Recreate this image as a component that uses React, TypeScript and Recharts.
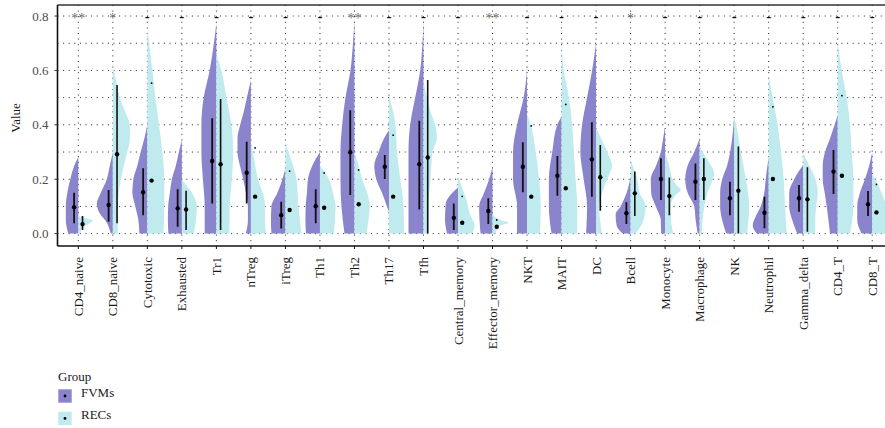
import React from 'react';
import { ComposedChart, Area, Line, Scatter, XAxis, YAxis, CartesianGrid, ReferenceLine } from 'recharts';

// ---------- data ----------
const categories = [
  'CD4_naive', 'CD8_naive', 'Cytotoxic', 'Exhausted', 'Tr1', 'nTreg', 'iTreg', 'Th1', 'Th2', 'Th17', 'Tfh',
  'Central_memory', 'Effector_memory', 'NKT', 'MAIT', 'DC', 'Bcell', 'Monocyte', 'Macrophage', 'NK',
  'Neutrophil', 'Gamma_delta', 'CD4_T', 'CD8_T',
];

const groups = ['FVMs', 'RECs'];

const significance = ['**', '*', '-', '-', '-', '-', '-', '-', '**', '-', '-', '-', '**', '-', '-', '-', '*', '-', '-', '-', '-', '-', '-', '-'];

// violin density profiles: [value, relative density]
const fvmDensity: number[][][] = [
  [[0, 10], [0.05, 12.5], [0.1, 12.5], [0.15, 11], [0.2, 8], [0.25, 4], [0.283, 0]],
  [[0, 2], [0.04, 6], [0.08, 14], [0.11, 16], [0.15, 12], [0.2, 6], [0.25, 3], [0.3, 0]],
  [[0, 8], [0.05, 9], [0.1, 12], [0.15, 15], [0.2, 14], [0.25, 10], [0.3, 6.7], [0.35, 3], [0.4, 0]],
  [[0, 13.5], [0.05, 14], [0.1, 13.7], [0.15, 12], [0.2, 10], [0.25, 6], [0.3, 3], [0.344, 0]],
  [[0, 11.7], [0.1, 11.7], [0.2, 13.5], [0.3, 15], [0.4, 15], [0.5, 12.7], [0.6, 6.7], [0.7, 2.5], [0.773, 0]],
  [[0, 5], [0.05, 3], [0.1, 3], [0.15, 5], [0.2, 7.7], [0.25, 11], [0.3, 13.4], [0.35, 13.4], [0.4, 10.7], [0.45, 7], [0.5, 4], [0.565, 0]],
  [[0, 14], [0.05, 14.5], [0.1, 14], [0.15, 8], [0.2, 3], [0.24, 0]],
  [[0, 14], [0.05, 14.5], [0.1, 14.3], [0.15, 13], [0.2, 12], [0.25, 7.6], [0.3, 0]],
  [[0, 10], [0.1, 13], [0.2, 14], [0.3, 14], [0.4, 12.3], [0.5, 9], [0.6, 4], [0.7, 1.5], [0.785, 0]],
  [[0.08, 0], [0.1, 2], [0.15, 7], [0.2, 12.7], [0.25, 14.7], [0.3, 10.4], [0.35, 5], [0.38, 0]],
  [[0, 15], [0.1, 15], [0.2, 15], [0.3, 15], [0.4, 13.3], [0.5, 8.3], [0.6, 3.3], [0.7, 1], [0.785, 0]],
  [[0, 11], [0.05, 13], [0.11, 12.3], [0.14, 8], [0.17, 0]],
  [[0, 12], [0.05, 13], [0.1, 13.4], [0.15, 8.4], [0.2, 3.4], [0.246, 0]],
  [[0, 10], [0.1, 10], [0.2, 14], [0.3, 14], [0.4, 10], [0.5, 3.4], [0.6, 0]],
  [[0, 10], [0.1, 12.7], [0.2, 12.7], [0.3, 9.3], [0.4, 4.3], [0.43, 0]],
  [[0, 10], [0.1, 9], [0.2, 12.4], [0.3, 15.7], [0.4, 14], [0.5, 9], [0.6, 4], [0.7, 0]],
  [[0, 8], [0.03, 14], [0.07, 15], [0.1, 10], [0.15, 4], [0.209, 0]],
  [[0, 4], [0.05, 4.3], [0.1, 9.3], [0.15, 14], [0.2, 14.3], [0.25, 9], [0.3, 4.3], [0.35, 2], [0.393, 0]],
  [[0, 2], [0.05, 4], [0.1, 5.4], [0.15, 12], [0.2, 14.4], [0.25, 12], [0.3, 5.4], [0.35, 0]],
  [[0, 8], [0.05, 12], [0.1, 14], [0.15, 14], [0.2, 12], [0.25, 7], [0.3, 4], [0.35, 2], [0.43, 0]],
  [[0, 12], [0.03, 16], [0.07, 12], [0.1, 8], [0.15, 4.4], [0.2, 3], [0.283, 0]],
  [[0, 6], [0.05, 11], [0.1, 14], [0.15, 14], [0.2, 9], [0.252, 0]],
  [[0, 7.7], [0.1, 11], [0.15, 13], [0.2, 15], [0.25, 15], [0.3, 12.7], [0.35, 7.7], [0.436, 0]],
  [[0, 10.6], [0.05, 15], [0.1, 15], [0.15, 12.3], [0.2, 7.3], [0.25, 3], [0.3, 0]],
];

const recDensity: number[][][] = [
  [[0, 2], [0.02, 4], [0.04, 12], [0.048, 15], [0.056, 8], [0.065, 0]],
  [[0, 5], [0.1, 5], [0.2, 8], [0.28, 13], [0.35, 17], [0.4, 17], [0.45, 12], [0.5, 7], [0.55, 4], [0.614, 0]],
  [[0, 16], [0.1, 17], [0.2, 17], [0.3, 15], [0.4, 11.6], [0.5, 8], [0.6, 5], [0.68, 2.5], [0.75, 0]],
  [[0, 12], [0.05, 14], [0.1, 15], [0.15, 10], [0.197, 0]],
  [[0, 13], [0.1, 13.3], [0.2, 15.5], [0.3, 16.7], [0.4, 15], [0.5, 10], [0.6, 5], [0.66, 0]],
  [[0, 15], [0.05, 14], [0.1, 14.3], [0.14, 12.6], [0.2, 7], [0.25, 4.3], [0.3, 2], [0.34, 0]],
  [[0, 16], [0.1, 13], [0.2, 11], [0.25, 7.6], [0.3, 3], [0.333, 0]],
  [[0, 14], [0.05, 15], [0.1, 15.7], [0.15, 13], [0.2, 9], [0.25, 0]],
  [[0, 12], [0.05, 14], [0.1, 15.3], [0.15, 12.7], [0.2, 7.7], [0.25, 4], [0.3, 0]],
  [[0, 15], [0.1, 14.6], [0.2, 11.3], [0.3, 8], [0.4, 6.6], [0.45, 4], [0.51, 0]],
  [[0, 5], [0.1, 5], [0.2, 7], [0.3, 9], [0.35, 13.4], [0.4, 11.7], [0.45, 7], [0.5, 3.4], [0.565, 0]],
  [[0, 14], [0.03, 16.5], [0.07, 12], [0.11, 9.4], [0.15, 6], [0.21, 0]],
  [[0, 3], [0.03, 8], [0.04, 16], [0.05, 8], [0.07, 0]],
  [[0, 13], [0.1, 13.7], [0.2, 12], [0.3, 8.7], [0.4, 3.7], [0.44, 0]],
  [[0, 15.7], [0.1, 15.7], [0.2, 14], [0.3, 12.3], [0.4, 10.7], [0.5, 7.3], [0.6, 2.3], [0.7, 0]],
  [[0, 6], [0.05, 4], [0.1, 3], [0.15, 6], [0.2, 11], [0.25, 16], [0.3, 11], [0.35, 5], [0.39, 0]],
  [[0, 5], [0.05, 13], [0.1, 15], [0.15, 9], [0.2, 6.7], [0.25, 2], [0.277, 0]],
  [[0, 8], [0.05, 6], [0.1, 5.7], [0.14, 10], [0.16, 15.7], [0.18, 11], [0.2, 7.4], [0.25, 4], [0.3, 0]],
  [[0, 2], [0.05, 3], [0.1, 4.6], [0.15, 8], [0.2, 13], [0.22, 14.6], [0.25, 11.3], [0.3, 3], [0.32, 0]],
  [[0, 13], [0.1, 15], [0.2, 11.7], [0.3, 6.7], [0.4, 2], [0.43, 0]],
  [[0, 18], [0.1, 16.3], [0.2, 15], [0.3, 12.3], [0.4, 9], [0.5, 4], [0.583, 0]],
  [[0, 12], [0.05, 12], [0.1, 13], [0.15, 14.6], [0.2, 12.3], [0.25, 6], [0.295, 0]],
  [[0, 12.3], [0.1, 15.6], [0.2, 15.6], [0.3, 14], [0.4, 12.3], [0.5, 9], [0.6, 4], [0.7, 0]],
  [[0, 14], [0.05, 16], [0.1, 14], [0.15, 9.4], [0.2, 3], [0.22, 0]],
];

const fvmMedian = [0.097, 0.105, 0.152, 0.093, 0.267, 0.224, 0.068, 0.101, 0.299, 0.246, 0.255, 0.058, 0.083, 0.246, 0.213, 0.273, 0.075, 0.201, 0.191, 0.13, 0.077, 0.13, 0.228, 0.108];
const fvmLow = [0.038, 0.044, 0.068, 0.025, 0.111, 0.111, 0.019, 0.038, 0.142, 0.201, 0.089, 0.013, 0.035, 0.152, 0.139, 0.136, 0.035, 0.124, 0.124, 0.068, 0.02, 0.08, 0.146, 0.065];
const fvmHigh = [0.15, 0.16, 0.24, 0.163, 0.424, 0.338, 0.117, 0.163, 0.454, 0.289, 0.415, 0.111, 0.13, 0.336, 0.285, 0.409, 0.115, 0.277, 0.258, 0.191, 0.136, 0.179, 0.307, 0.157];

const recMedian = [0.035, 0.292, 0.195, 0.089, 0.255, 0.136, 0.087, 0.095, 0.108, 0.136, 0.28, 0.04, 0.025, 0.136, 0.167, 0.207, 0.148, 0.138, 0.201, 0.158, 0.201, 0.126, 0.213, 0.078];
const recLow: (number | null)[] = [0.013, 0.038, null, 0.013, 0.013, null, null, null, null, null, 0, null, null, null, null, 0.084, 0.065, 0.068, 0.124, 0, null, 0.007, null, null];
const recHigh: (number | null)[] = [0.065, 0.546, null, 0.158, 0.495, null, null, null, null, null, 0.565, null, null, null, null, 0.326, 0.228, 0.206, 0.277, 0.32, null, 0.244, null, null];
const recExtra: (number | null)[] = [null, null, 0.553, null, null, 0.315, 0.23, 0.223, 0.234, 0.362, null, 0.137, 0.05, 0.396, 0.475, null, null, null, null, null, 0.466, null, 0.507, 0.181];

const yTicks = [0, 0.2, 0.4, 0.6, 0.8];
const gridY = [0, 0.1, 0.2, 0.3, 0.4, 0.5, 0.6, 0.7, 0.8];
const SIG_LEVEL = 0.8;

// ---------- layout / style constants ----------
const FONT = "'Liberation Serif', 'Times New Roman', serif";
const FVM_COLOR = '#8984cc';
const REC_COLOR = '#bfeaee';
const X_MIN = -0.603;
const X_MAX = 23.37;
const Y_MIN = -0.0455;
const Y_MAX = 0.8405;
const DENSITY_SCALE = 1 / 34.52;
const BAR_OFFSET = 0.122;

const xTicks = categories.map((_, i) => i);

const violinData = (profiles: number[][][], side: number) =>
  profiles.map((prof, i) =>
    prof.map(([v, d]) => ({
      y: v,
      x: side < 0 ? [i - d * DENSITY_SCALE, i] : [i, i + d * DENSITY_SCALE],
    })),
  );

const fvmViolins = violinData(fvmDensity, -1);
const recViolins = violinData(recDensity, 1);

const fvmBars = categories.map((_, i) => [
  { x: i - BAR_OFFSET, y: fvmLow[i] },
  { x: i - BAR_OFFSET, y: fvmHigh[i] },
]);
const recBars = categories.map((_, i) =>
  recLow[i] == null
    ? null
    : [
        { x: i + BAR_OFFSET, y: recLow[i] },
        { x: i + BAR_OFFSET, y: recHigh[i] },
      ],
);

const fvmMedianPts = categories.map((_, i) => ({ x: i - BAR_OFFSET, y: fvmMedian[i] }));
const recMedianPts = categories.map((_, i) => ({ x: i + BAR_OFFSET, y: recMedian[i] }));
const recExtraPts = categories
  .map((_, i) => (recExtra[i] == null ? null : { x: i + BAR_OFFSET, y: recExtra[i] }))
  .filter((p) => p != null);
const sigPts = categories.map((_, i) => ({ x: i, y: SIG_LEVEL, label: significance[i] }));

const Dot = (r: number) => (props: any) => <circle cx={props.cx} cy={props.cy} r={r} fill="#000" />;

const SigShape = (props: any) => {
  const label = props.payload?.label ?? '';
  const isDash = label === '-';
  return (
    <text
      x={props.cx}
      y={props.cy + (isDash ? 4.6 : 7)}
      textAnchor="middle"
      fontSize={isDash ? 15 : 14}
      fontWeight={isDash ? 700 : 400}
      fontFamily={FONT}
      fill={isDash ? '#111' : '#6f6f6f'}
    >
      {label}
    </text>
  );
};

const XTick = (props: any) => {
  const { x, y, payload } = props;
  return (
    <text
      x={x}
      y={y}
      transform={`rotate(-90 ${x} ${y})`}
      textAnchor="end"
      dominantBaseline="central"
      fontSize={13}
      fontFamily={FONT}
      fill="#1a1a1a"
    >
      {categories[payload.value]}
    </text>
  );
};

export default function App() {
  return (
    <div style={{ position: 'absolute', left: 0, top: 0, width: 885, height: 428, background: '#fff', overflow: 'hidden' }}>
      <ComposedChart
        width={885}
        height={428}
        layout="vertical"
        margin={{ top: 5, right: 0, bottom: 0, left: 0 }}
        style={{ fontFamily: FONT }}
      >
        <CartesianGrid
          horizontalValues={gridY}
          verticalValues={xTicks}
          stroke="#222"
          strokeDasharray="1 4.6"
          strokeWidth={1}
        />
        <XAxis
          type="number"
          dataKey="x"
          domain={[X_MIN, X_MAX]}
          allowDataOverflow
          ticks={xTicks}
          interval={0}
          height={182}
          tickSize={3}
          tickMargin={8}
          tick={<XTick />}
          axisLine={{ stroke: '#111', strokeWidth: 1.6 }}
          tickLine={{ stroke: '#111' }}
        />
        <YAxis
          type="number"
          dataKey="y"
          reversed
          domain={[Y_MIN, Y_MAX]}
          allowDataOverflow
          ticks={yTicks}
          interval={0}
          width={57.5}
          tickSize={3}
          tickMargin={6}
          tickFormatter={(v: number) => v.toFixed(1)}
          tick={{ fill: '#4d4d4d', fontSize: 13, fontFamily: FONT }}
          axisLine={{ stroke: '#111', strokeWidth: 1.6 }}
          tickLine={{ stroke: '#333' }}
        />
        <ReferenceLine y={Y_MAX} stroke="#333" strokeWidth={1.6} ifOverflow="visible" />

        {fvmViolins.map((d, i) => (
          <Area
            key={`fv${i}`}
            data={d}
            dataKey="x"
            type="monotone"
            stroke="none"
            fill={FVM_COLOR}
            fillOpacity={1}
            isAnimationActive={false}
            dot={false}
            activeDot={false}
          />
        ))}
        {recViolins.map((d, i) => (
          <Area
            key={`rv${i}`}
            data={d}
            dataKey="x"
            type="monotone"
            stroke="none"
            fill={REC_COLOR}
            fillOpacity={1}
            isAnimationActive={false}
            dot={false}
            activeDot={false}
          />
        ))}

        {fvmBars.map((d, i) => (
          <Line
            key={`fb${i}`}
            data={d}
            dataKey="x"
            type="linear"
            stroke="#111"
            strokeWidth={1.8}
            dot={false}
            activeDot={false}
            isAnimationActive={false}
          />
        ))}
        {recBars.map((d, i) =>
          d == null ? null : (
            <Line
              key={`rb${i}`}
              data={d}
              dataKey="x"
              type="linear"
              stroke="#111"
              strokeWidth={1.6}
              dot={false}
              activeDot={false}
              isAnimationActive={false}
            />
          ),
        )}

        <Scatter data={fvmMedianPts} dataKey="x" shape={Dot(2.2)} isAnimationActive={false} />
        <Scatter data={recMedianPts} dataKey="x" shape={Dot(2.2)} isAnimationActive={false} />
        <Scatter data={recExtraPts} dataKey="x" shape={Dot(0.9)} isAnimationActive={false} />
        <Scatter data={sigPts} dataKey="x" shape={<SigShape />} isAnimationActive={false} />
      </ComposedChart>

      <svg
        width={885}
        height={428}
        style={{ position: 'absolute', left: 0, top: 0, pointerEvents: 'none' }}
        fontFamily={FONT}
      >
        <text x={20} y={118} transform="rotate(-90 20 118)" textAnchor="middle" fontSize={13} fill="#1a1a1a">
          Value
        </text>
        <text x={58} y={381} fontSize={13} fill="#1a1a1a">
          Group
        </text>
        {groups.map((g, k) => (
          <g key={g}>
            <rect x={58.3} y={389.3 + k * 22.4} width={13.4} height={13.4} fill={k === 0 ? FVM_COLOR : REC_COLOR} />
            <circle cx={65} cy={396 + k * 22.4} r={1.4} fill="#000" />
            <text x={81} y={397 + k * 22.4} fontSize={13} fill="#1a1a1a">
              {g}
            </text>
          </g>
        ))}
      </svg>
    </div>
  );
}
